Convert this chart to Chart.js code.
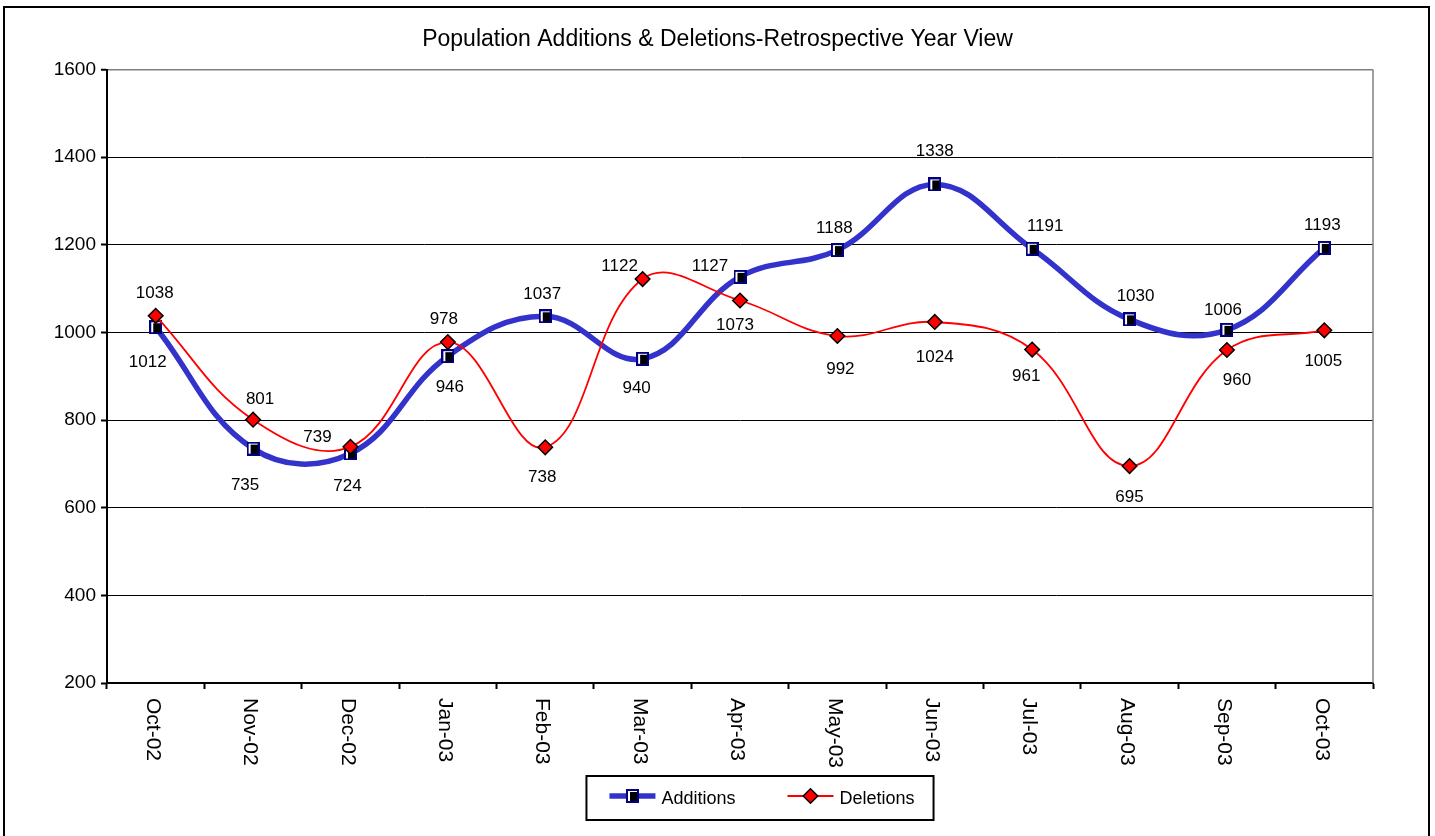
<!DOCTYPE html>
<html>
<head>
<meta charset="utf-8">
<title>Population Additions & Deletions</title>
<script src="https://cdn.jsdelivr.net/npm/chart.js@4.4.1/dist/chart.umd.min.js"></script>
<style>
  html, body { margin: 0; padding: 0; background: #fff; }
  canvas { display: block; }
</style>
</head>
<body>
<canvas id="popChart" width="1435" height="836"></canvas>
<script>
// Chart data
const months = ['Oct-02', 'Nov-02', 'Dec-02', 'Jan-03', 'Feb-03', 'Mar-03', 'Apr-03',
                'May-03', 'Jun-03', 'Jul-03', 'Aug-03', 'Sep-03', 'Oct-03'];
const additions = [1012, 735, 724, 946, 1037, 940, 1127, 1188, 1338, 1191, 1030, 1006, 1193];
const deletions = [1038, 801, 739, 978, 738, 1122, 1073, 992, 1024, 961, 695, 960, 1005];
const yMin = 200;
const yMax = 1600;
const yStep = 200;

const FONT = "'Liberation Sans', Arial, sans-serif";
Chart.defaults.font.family = FONT;
Chart.defaults.color = '#000';

// Excel style square marker: navy frame, white highlight, black fill
function squareMarker() {
    const c = document.createElement('canvas');
    c.width = 13;
    c.height = 14;
    const g = c.getContext('2d');
    g.fillStyle = '#000080';
    g.fillRect(0, 0, 13, 14);
    g.fillStyle = '#ffffff';
    g.fillRect(2, 2, 9, 10);
    g.fillStyle = '#000000';
    g.fillRect(4, 3, 7, 9);
    return c;
}
const squareImg = squareMarker();

// where each value label sits relative to its marker [dx, dy]
const labelOffsets = [
    [[-8, 35], [-8, 37], [-3, 33], [2, 31], [-3, -22], [-6, 30], [-30, -11],
     [-3, -22], [0, -33], [13, -22], [6, -23], [-4, -20], [-2, -23]],
    [[-1, -23], [7, -20], [-33, -10], [-4, -23], [-3, 30], [-23, -13], [-5, 25],
     [3, 33], [0, 35], [-6, 27], [0, 31], [10, 30], [-1, 31]]
];

const pointLabels = {
    id: 'pointLabels',
    afterDatasetsDraw(chart) {
        const ctx = chart.ctx;
        ctx.save();
        ctx.font = '17px ' + FONT;
        ctx.fillStyle = '#000';
        ctx.textAlign = 'center';
        ctx.textBaseline = 'middle';
        chart.data.datasets.forEach((ds, di) => {
            const meta = chart.getDatasetMeta(di);
            meta.data.forEach((pt, i) => {
                const off = labelOffsets[di][i];
                ctx.fillText(String(ds.data[i]), pt.x + off[0], pt.y + off[1]);
            });
        });
        ctx.restore();
    }
};

const frameAndLabels = {
    id: 'frameAndLabels',
    afterDraw(chart) {
        const ctx = chart.ctx;
        const area = chart.chartArea;
        const xScale = chart.scales.x;

        ctx.save();
        // grey right edge of the plot area
        ctx.strokeStyle = '#808080';
        ctx.lineWidth = 1.5;
        ctx.beginPath();
        ctx.moveTo(area.right, area.top);
        ctx.lineTo(area.right, area.bottom);
        ctx.stroke();

        // category labels, rotated to read top to bottom
        ctx.font = '21px ' + FONT;
        ctx.fillStyle = '#000';
        ctx.textAlign = 'left';
        ctx.textBaseline = 'middle';
        chart.data.labels.forEach((lab, i) => {
            const x = xScale.getPixelForValue(i) - 3;
            ctx.save();
            ctx.translate(x, area.bottom + 15);
            ctx.rotate(Math.PI / 2);
            ctx.fillText(lab, 0, 0);
            ctx.restore();
        });

        // legend box
        ctx.font = '18px ' + FONT;
        const lineLen = 46;
        const gap = 6;
        const itemGap = 52;
        const padL = 23, padR = 19;
        const items = chart.data.datasets.map(ds => ({ds, w: ctx.measureText(ds.label).width}));
        let boxW = padL + padR + itemGap * (items.length - 1);
        items.forEach(it => { boxW += lineLen + gap + it.w; });
        const boxH = 44;
        const boxX = 760 - boxW / 2;
        const boxY = 776;
        ctx.strokeStyle = '#000';
        ctx.lineWidth = 2;
        ctx.strokeRect(boxX, boxY, boxW, boxH);

        let x = boxX + padL;
        const cy = boxY + boxH / 2;
        items.forEach(it => {
            const ds = it.ds;
            ctx.strokeStyle = ds.borderColor;
            ctx.lineWidth = ds.borderWidth;
            ctx.beginPath();
            ctx.moveTo(x, cy - 2);
            ctx.lineTo(x + lineLen, cy - 2);
            ctx.stroke();
            ctx.fillStyle = ds.pointBackgroundColor || '#000';
            ctx.strokeStyle = ds.pointBorderColor || '#000';
            ctx.lineWidth = ds.pointBorderWidth || 0;
            Chart.helpers.drawPoint(ctx, {
                pointStyle: ds.pointStyle,
                radius: ds.pointRadius,
                rotation: 0,
                borderWidth: ds.pointBorderWidth || 0
            }, x + lineLen / 2, cy - 2);
            ctx.fillStyle = '#000';
            ctx.textAlign = 'left';
            ctx.fillText(ds.label, x + lineLen + gap, cy + 1);
            x += lineLen + gap + it.w + itemGap;
        });

        // outer chart border
        ctx.strokeStyle = '#000';
        ctx.lineWidth = 2;
        ctx.strokeRect(4, 7, 1425, 840);
        ctx.restore();
    }
};

new Chart(document.getElementById('popChart'), {
    type: 'line',
    data: {
        labels: months,
        datasets: [{
            label: 'Additions',
            data: additions,
            borderColor: '#3333CC',
            borderWidth: 5.5,
            tension: 0.4,
            fill: false,
            pointStyle: squareImg,
            pointRadius: 7,
            pointBorderWidth: 0,
            order: 1
        }, {
            label: 'Deletions',
            data: deletions,
            borderColor: '#FF0000',
            borderWidth: 1.8,
            tension: 0.4,
            fill: false,
            pointStyle: 'rectRot',
            pointRadius: 7.3,
            pointBackgroundColor: '#FF0000',
            pointBorderColor: '#000000',
            pointBorderWidth: 1.5,
            order: 0
        }]
    },
    options: {
        responsive: false,
        animation: false,
        devicePixelRatio: 1,
        layout: {
            padding: { left: 0, right: 0, top: 0, bottom: 0 }
        },
        scales: {
            x: {
                type: 'category',
                offset: true,
                grid: {
                    offset: true,
                    drawOnChartArea: false,
                    drawTicks: true,
                    tickLength: 6,
                    tickColor: '#000',
                    tickWidth: 2,
                    color: '#000'
                },
                border: { color: '#000', width: 2 },
                ticks: { display: false },
                afterFit: function(scale) {
                    scale.height = 153;
                }
            },
            y: {
                min: yMin,
                max: yMax,
                ticks: {
                    stepSize: yStep,
                    padding: 5,
                    color: '#000',
                    font: { size: 19 },
                    callback: function(value) {
                        return String(value);
                    }
                },
                grid: {
                    color: function(ctx) {
                        return ctx.tick && ctx.tick.value === yMax ? '#808080' : '#000';
                    },
                    lineWidth: function(ctx) {
                        return ctx.tick && ctx.tick.value === yMax ? 1.5 : 1;
                    },
                    tickColor: '#000',
                    tickWidth: 2,
                    tickLength: 6
                },
                border: { color: '#000', width: 2 },
                afterFit: function(scale) {
                    scale.width = 107;
                }
            },
            // empty right-hand margin so the title stays centred on the page
            yRight: {
                position: 'right',
                min: yMin,
                max: yMax,
                ticks: { display: false },
                grid: { drawOnChartArea: false, drawTicks: false },
                border: { display: false },
                afterFit: function(scale) {
                    scale.width = 62;
                }
            }
        },
        plugins: {
            legend: { display: false },
            tooltip: { enabled: false },
            title: {
                display: true,
                text: 'Population Additions & Deletions-Retrospective Year View',
                color: '#000',
                font: { size: 23, weight: 'normal' },
                padding: { top: 26, bottom: 16 }
            }
        }
    },
    plugins: [pointLabels, frameAndLabels]
});
</script>
</body>
</html>
